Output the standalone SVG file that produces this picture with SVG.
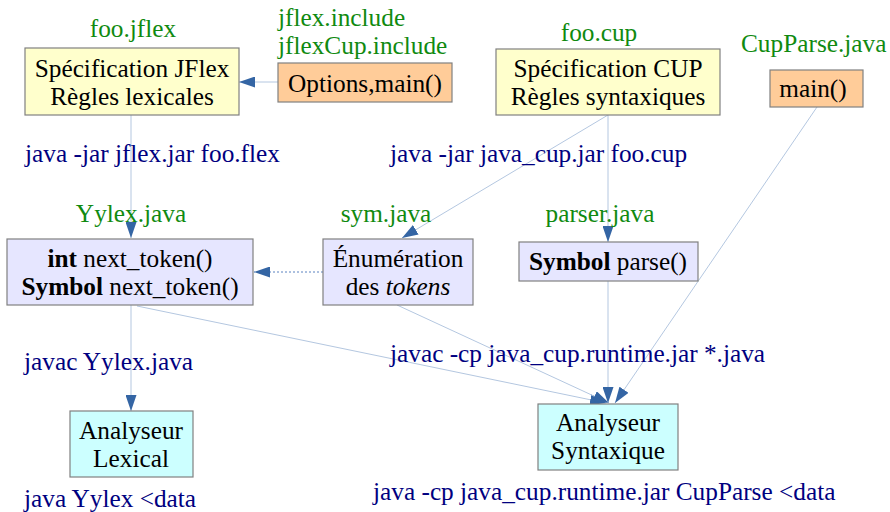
<svg xmlns="http://www.w3.org/2000/svg" width="890" height="512" viewBox="0 0 890 512">
<defs>
<marker id="ah" viewBox="0 0 16 11" refX="16" refY="5.5" markerWidth="16" markerHeight="11" markerUnits="userSpaceOnUse" orient="auto">
<path d="M0,0 L16,5.5 L0,11 Z" fill="#3465a4"/>
</marker>
<style>
text{font-family:"Liberation Serif","Times New Roman",serif;font-size:25.3px}
.c{text-anchor:middle;fill:#000}
.g{fill:#108a10}
.b{fill:#000080}
.box{stroke:#808080;stroke-width:1.2}
.y{fill:#ffffcc}
.o{fill:#ffcc99}
.l{fill:#e6e6ff}
.t{fill:#ccffff}
.ln{fill:none;stroke:#b4c7e0;stroke-width:1;marker-end:url(#ah)}
.dot{fill:none;stroke:#5a82c0;stroke-width:1;stroke-dasharray:2,2;marker-end:url(#ah)}
</style>
</defs>
<rect width="890" height="512" fill="#fff"/>
<g id="connectors">
<path class="ln" d="M278,82 L239,82"/>
<path class="ln" d="M131,115 L131,238"/>
<path class="ln" d="M608,115 L608,242"/>
<path class="ln" d="M608,115 L402,238"/>
<path class="dot" d="M323,272 L254,272"/>
<path class="ln" d="M131,305 L131,411"/>
<path class="ln" d="M137,306 L606,403"/>
<path class="ln" d="M397,305 L609,403"/>
<path class="ln" d="M608,281 L608,403"/>
<path class="ln" d="M817,107 L615,403"/>
</g>
<g id="labels">
<text class="g" x="133" y="37" text-anchor="middle">foo.jflex</text>
<text class="g" x="278" y="26">jflex.include</text>
<text class="g" x="278" y="54">jflexCup.include</text>
<text class="g" x="599" y="41" text-anchor="middle">foo.cup</text>
<text class="g" x="741" y="52">CupParse.java</text>
<text class="b" x="25" y="162">java -jar jflex.jar foo.flex</text>
<text class="b" x="390" y="162">java -jar java_cup.jar foo.cup</text>
<text class="g" x="131" y="222" text-anchor="middle">Yylex.java</text>
<text class="g" x="386" y="222" text-anchor="middle">sym.java</text>
<text class="g" x="600" y="222" text-anchor="middle">parser.java</text>
<text class="b" x="24" y="370">javac Yylex.java</text>
<text class="b" x="390" y="362">javac -cp java_cup.runtime.jar *.java</text>
<text class="b" x="24" y="507">java Yylex &lt;data</text>
<text class="b" x="373" y="500">java -cp java_cup.runtime.jar CupParse &lt;data</text>
</g>
<g id="spec-jflex">
<rect class="box y" x="25" y="48" width="214" height="67"/>
<text class="c" x="132" y="77">Spécification JFlex</text>
<text class="c" x="132" y="105">Règles lexicales</text>
</g>
<g id="options">
<rect class="box o" x="278" y="63" width="174" height="39"/>
<text class="c" x="365" y="92">Options,main()</text>
</g>
<g id="spec-cup">
<rect class="box y" x="496" y="49" width="224" height="66"/>
<text class="c" x="608" y="77">Spécification CUP</text>
<text class="c" x="608" y="105">Règles syntaxiques</text>
</g>
<g id="cupparse-main">
<rect class="box o" x="770" y="70" width="93" height="37"/>
<text class="c" x="813" y="97">main()</text>
</g>
<g id="yylex">
<rect class="box l" x="7" y="239" width="246" height="66"/>
<text class="c" x="130" y="267"><tspan font-weight="bold">int</tspan> next_token()</text>
<text class="c" x="130" y="295"><tspan font-weight="bold">Symbol</tspan> next_token()</text>
</g>
<g id="sym">
<rect class="box l" x="323" y="239" width="150" height="66"/>
<text class="c" x="398" y="267">Énumération</text>
<text class="c" x="398" y="295">des <tspan font-style="italic">tokens</tspan></text>
</g>
<g id="parser">
<rect class="box l" x="519" y="242" width="179" height="39"/>
<text class="c" x="608" y="270"><tspan font-weight="bold">Symbol</tspan> parse()</text>
</g>
<g id="analyseur-lexical">
<rect class="box t" x="70" y="411" width="123" height="66"/>
<text class="c" x="131" y="439">Analyseur</text>
<text class="c" x="131" y="467">Lexical</text>
</g>
<g id="analyseur-syntaxique">
<rect class="box t" x="538" y="404" width="140" height="66"/>
<text class="c" x="608" y="431">Analyseur</text>
<text class="c" x="608" y="459">Syntaxique</text>
</g>
</svg>
